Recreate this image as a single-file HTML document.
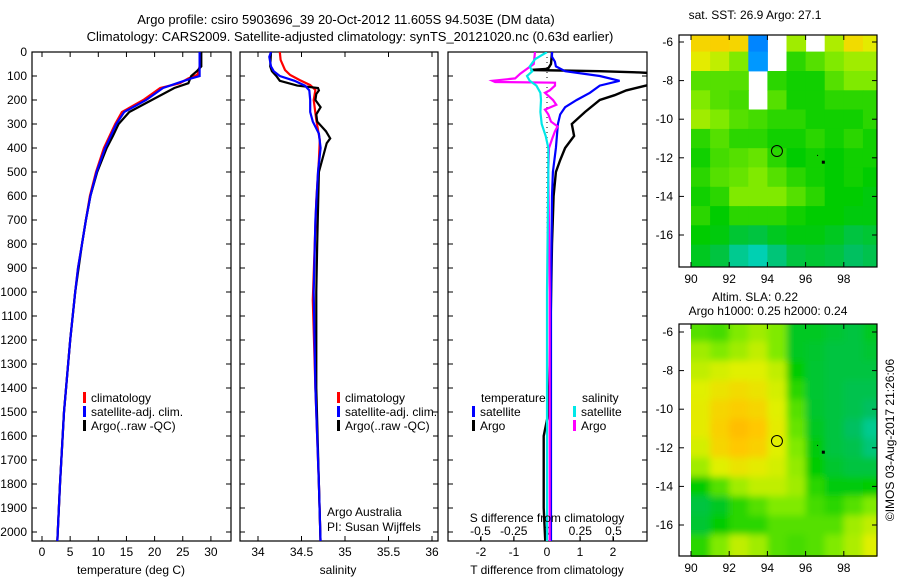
<!DOCTYPE html>
<html><head><meta charset="utf-8">
<style>
body{margin:0;background:#fff;}
svg{display:block;font-family:"Liberation Sans",sans-serif;}
text{font-size:12px;fill:#000;}
</style></head>
<body>
<svg id="fig" width="900" height="580" viewBox="0 0 900 580" xmlns="http://www.w3.org/2000/svg">
<defs>
<clipPath id="cp1"><rect x="32" y="52" width="199" height="489"/></clipPath>
<clipPath id="cp2"><rect x="240" y="52" width="198" height="489"/></clipPath>
<clipPath id="cp3"><rect x="448" y="52" width="199" height="489"/></clipPath>
<clipPath id="cpm1"><rect x="691" y="35" width="186" height="232"/></clipPath>
<clipPath id="cpm2"><rect x="691" y="324" width="186" height="233"/></clipPath>
<filter id="blur" x="-5%" y="-5%" width="110%" height="110%"><feGaussianBlur stdDeviation="3.5"/></filter>
</defs>
<text x="346" y="24" text-anchor="middle" style="font-size:13px">Argo profile: csiro 5903696_39 20-Oct-2012 11.605S 94.503E (DM data)</text>
<text x="350" y="41" text-anchor="middle" style="font-size:13px">Climatology: CARS2009. Satellite-adjusted climatology: synTS_20121020.nc (0.63d earlier)</text>
<g id="g"></g>
</svg>
<script>
// ---------- data ----------
const depthTicks=[0,100,200,300,400,500,600,700,800,900,1000,1100,1200,1300,1400,1500,1600,1700,1800,1900,2000];
const tempTicks=[0,5,10,15,20,25,30];
const salTicks=[34,34.5,35,35.5,36];
const tdiffTicks=[-2,-1,0,1,2];
const sdiffTicks=[-0.5,-0.25,0,0.25,0.5];
const sdiffLabels=["-0.5","-0.25","0","0.25","0.5"];

const tClimDepth=[0,60,95,110,130,150,200,250,300,400,500,600,700,800,900,1000,1200,1500,1800,2050];
const tClimVal=[28.0,28.0,27.6,26.0,24.5,21.0,18.0,14.2,13.0,11.0,9.6,8.5,7.8,7.1,6.4,5.9,5.0,3.9,3.2,2.7];
const tSatDepth=[0,100,110,130,150,200,250,300,400,500,600,700,800,900,1000,1200,1500,1800,2050];
const tSatVal=[28.0,28.0,26.5,24.0,21.5,18.5,14.6,13.2,11.2,9.7,8.6,7.8,7.1,6.4,5.9,5.0,3.9,3.2,2.7];
const tArgoDepth=[0,60,80,100,130,150,200,250,300,350,400,500,600,700,800,1000,1200,1500,1800,2050];
const tArgoVal=[28.3,28.3,27.5,26.5,26.0,23.5,19.5,15.5,13.6,12.6,11.5,9.8,8.6,7.8,7.1,5.9,5.0,3.9,3.2,2.7];

const sClimDepth=[0,33,75,96,117,138,158,200,283,325,367,450,617,1033,1400,1800,2050];
const sClimVal=[34.25,34.26,34.31,34.37,34.48,34.60,34.66,34.64,34.67,34.69,34.71,34.70,34.67,34.63,34.66,34.70,34.72];
const sSatDepth=[0,20,60,80,100,120,140,160,200,250,290,340,400,500,700,1000,1400,1800,2050];
const sSatVal=[34.15,34.13,34.15,34.18,34.25,34.42,34.54,34.59,34.60,34.60,34.63,34.70,34.72,34.69,34.66,34.64,34.66,34.70,34.72];
const sArgoDepth=[0,60,80,100,120,140,150,160,175,200,230,260,290,330,360,380,420,500,800,1000,1400,1800,2050];
const sArgoVal=[34.15,34.14,34.16,34.21,34.25,34.45,34.69,34.70,34.67,34.66,34.72,34.67,34.68,34.78,34.83,34.79,34.76,34.70,34.68,34.67,34.67,34.70,34.72];

const dTSatDepth=[0,20,40,60,80,100,120,140,170,200,230,260,300,400,500,600,1000,1500,2050];
const dTSatVal=[0.15,0.15,0.24,0.27,0.55,1.6,2.2,1.6,1.3,0.9,0.55,0.4,0.33,0.27,0.18,0.15,0.12,0.12,0.12];
const dTArgoDepth=[0,50,70,75,80,85,90,120,140,160,180,200,250,300,350,400,450,500,600,800,1200,1500,1600,1900,2050];
const dTArgoVal=[0.15,0.12,0.03,-0.5,1.6,2.8,3.4,3.4,3.0,2.4,2.05,1.6,1.15,0.75,0.82,0.55,0.4,0.27,0.2,0.15,0.1,0.05,-0.1,-0.1,-0.05];
const dSSatDepth=[0,30,60,80,100,120,140,170,200,250,300,350,400,500,1000,2050];
const dSSatVal=[0,-0.09,-0.13,-0.11,-0.15,-0.13,-0.08,-0.05,-0.045,-0.05,-0.04,-0.01,0.01,0.01,0,0];
const dSArgoDepth=[0,50,90,110,120,125,128,140,160,170,200,220,240,260,290,310,330,360,400,500,1000,2050];
const dSArgoVal=[-0.09,-0.1,-0.2,-0.24,-0.41,-0.39,0.06,0.06,0.02,-0.015,0.045,0.07,-0.015,0.01,0.03,0.08,0.06,0.04,0.015,0.01,0.02,0.02];

const mapLons=[90,91,92,93,94,95,96,97,98,99];
const mapLatTops=[-5.5,-6.5,-7.5,-8.5,-9.5,-10.5,-11.5,-12.5,-13.5,-14.5,-15.5,-16.5,-17.5];
const sstGrid=[
[0.8,0.82,0.8,-0.2,null,0.6,null,0.62,0.78,0.72],
[0.72,0.65,0.55,-0.15,null,0.45,0.5,0.55,0.6,0.6],
[0.5,0.5,0.5,null,0.45,0.42,0.42,0.5,0.55,0.55],
[0.55,0.5,0.48,null,0.5,0.42,0.42,0.45,0.45,0.45],
[0.6,0.55,0.5,0.48,0.45,0.45,0.42,0.42,0.42,0.45],
[0.45,0.5,0.45,0.45,0.42,0.42,0.45,0.42,0.45,0.42],
[0.42,0.48,0.5,0.52,0.45,0.4,0.42,0.4,0.42,0.42],
[0.45,0.5,0.52,0.55,0.5,0.45,0.42,0.4,0.42,0.4],
[0.42,0.45,0.55,0.55,0.55,0.5,0.45,0.4,0.4,0.38],
[0.45,0.4,0.45,0.45,0.45,0.42,0.4,0.4,0.38,0.38],
[0.4,0.38,0.32,0.3,0.35,0.38,0.38,0.35,0.3,0.32],
[0.35,0.3,0.15,0.08,0.2,0.3,0.32,0.3,0.25,0.28],
[0.35,0.3,0.15,0.08,0.2,0.3,0.32,0.3,0.25,0.28]];
const slaGrid=[
[0.5,0.48,0.55,0.6,0.55,0.35,0.35,0.32,0.3,0.35],
[0.6,0.55,0.6,0.65,0.55,0.35,0.33,0.3,0.3,0.32],
[0.65,0.68,0.7,0.7,0.65,0.4,0.32,0.3,0.3,0.3],
[0.7,0.75,0.78,0.75,0.68,0.45,0.32,0.3,0.28,0.28],
[0.72,0.8,0.83,0.8,0.7,0.5,0.33,0.3,0.28,0.25],
[0.72,0.82,0.88,0.85,0.72,0.52,0.35,0.3,0.25,0.15],
[0.68,0.8,0.85,0.82,0.7,0.55,0.38,0.3,0.28,0.2],
[0.6,0.7,0.75,0.72,0.68,0.58,0.4,0.33,0.3,0.3],
[0.4,0.5,0.6,0.65,0.65,0.6,0.45,0.38,0.38,0.4],
[0.3,0.35,0.45,0.5,0.55,0.55,0.48,0.45,0.5,0.55],
[0.32,0.4,0.45,0.45,0.5,0.5,0.5,0.5,0.6,0.65],
[0.45,0.55,0.65,0.6,0.5,0.48,0.5,0.55,0.62,0.7],
[0.45,0.55,0.65,0.6,0.5,0.48,0.5,0.55,0.62,0.7]];
const lonTicks=[90,92,94,96,98];
const latTicks=[-6,-8,-10,-12,-14,-16];
const argoPos=[94.5,-11.65];

// ---------- helpers ----------
const NS="http://www.w3.org/2000/svg";
const G=document.getElementById('g');
function mk(tag,attrs,parent){const e=document.createElementNS(NS,tag);for(const k in attrs)e.setAttribute(k,attrs[k]);(parent||G).appendChild(e);return e;}
function txt(x,y,s,anchor,parent,size){const e=mk('text',{x:x,y:y,'text-anchor':anchor||'start'},parent);if(size)e.style.fontSize=size+'px';e.textContent=s;return e;}
const yD=d=>52+d*0.24;
const xT=t=>42+t*5.63;
const xS=s=>258+(s-34)*87;
const xDT=v=>547+v*33;
const xDS=v=>547+v*133;

function frame(x0,x1,name){
  const r=mk('rect',{x:x0,y:52,width:x1-x0,height:489,fill:'none',stroke:'#000','stroke-width':1.2});
  
  
  depthTicks.forEach(d=>{mk('line',{x1:x0,x2:x0+5,y1:yD(d),y2:yD(d),stroke:'#000'});mk('line',{x1:x1-5,x2:x1,y1:yD(d),y2:yD(d),stroke:'#000'});});
}
function xticks(ticks,f,labels,x0,x1,top){
  ticks.forEach((t,i)=>{const x=f(t);
    mk('line',{x1:x,x2:x,y1:541,y2:536,stroke:'#000'});
    if(top)mk('line',{x1:x,x2:x,y1:52,y2:57,stroke:'#000'});
    if(labels){const e=txt(x,556,labels[i],'middle');}
  });
}
function line(depths,vals,fx,color,name,clip,w){
  const pts=depths.map((d,i)=>fx(vals[i]).toFixed(1)+','+yD(d).toFixed(1)).join(' ');
  const p=mk('polyline',{points:pts,fill:'none',stroke:color,'stroke-width':w||2.2,'clip-path':'url(#'+clip+')'});
  
  
}
function legend(x,y,color,label,name){
  if(color)mk('rect',{x:x,y:y-10,width:3,height:11,fill:color});
  const t=txt(x+(color?8:0),y,label,'start');
  
  
}

depthTicks.forEach(d=>{const t=txt(27,yD(d)+4,String(d),'end');});

// panel 1 temperature
frame(32,231,'temperature-panel');
xticks(tempTicks,xT,tempTicks.map(String),32,231,true);
line(tClimDepth,tClimVal,xT,'#ff0000','temp-climatology-line','cp1');
line(tArgoDepth,tArgoVal,xT,'#000000','temp-argo-line','cp1');
line(tSatDepth,tSatVal,xT,'#0000ff','temp-satellite-line','cp1');
legend(83,402,'#ff0000','climatology','legend-climatology');
legend(83,416,'#0000ff','satellite-adj. clim.','legend-satellite');
legend(83,430,'#000','Argo(..raw -QC)','legend-argo');
txt(131,574,'temperature (deg C)','middle');

// panel 2 salinity
frame(240,438,'salinity-panel');
xticks(salTicks,xS,salTicks.map(String),240,438,true);
line(sClimDepth,sClimVal,xS,'#ff0000','sal-climatology-line','cp2');
line(sArgoDepth,sArgoVal,xS,'#000000','sal-argo-line','cp2');
line(sSatDepth,sSatVal,xS,'#0000ff','sal-satellite-line','cp2');
legend(337,402,'#ff0000','climatology','legend-climatology-2');
legend(337,416,'#0000ff','satellite-adj. clim.','legend-satellite-2');
legend(337,430,'#000','Argo(..raw -QC)','legend-argo-2');
legend(327,516,null,'Argo Australia','credit-argo-australia');
legend(327,531,null,'PI: Susan Wijffels','credit-pi');
txt(338,574,'salinity','middle');

// panel 3 differences
frame(448,647,'difference-panel');
xticks(tdiffTicks,xDT,tdiffTicks.map(String),448,647,false);
sdiffTicks.forEach((t,i)=>{const x=xDS(t);mk('line',{x1:x,x2:x,y1:541,y2:537,stroke:'#000'});const e=txt(x,535,sdiffLabels[i],'middle');});
mk('line',{x1:xDT(0),x2:xDT(0),y1:52,y2:541,stroke:'#000','stroke-dasharray':'1,4','clip-path':'url(#cp3)'});
line(dTArgoDepth,dTArgoVal,xDT,'#000000','tdiff-argo-line','cp3',2.4);
line(dTSatDepth,dTSatVal,xDT,'#0000ff','tdiff-satellite-line','cp3');
line(dSArgoDepth,dSArgoVal,xDS,'#ff00ff','sdiff-argo-line','cp3');
line(dSSatDepth,dSSatVal,xDS,'#00e8e8','sdiff-satellite-line','cp3');
legend(481,402,null,'temperature','legend-temperature-header');
legend(472,416,'#0000ff','satellite','legend-t-satellite');
legend(472,430,'#000','Argo','legend-t-argo');
legend(582,402,null,'salinity','legend-salinity-header');
legend(573,416,'#00e8e8','satellite','legend-s-satellite');
legend(573,430,'#ff00ff','Argo','legend-s-argo');
txt(547,522,'S difference from climatology','middle');
txt(547,574,'T difference from climatology','middle');

// ---------- maps ----------
const cstops=[[-0.3,[0,96,255]],[-0.1,[0,170,255]],[0,[0,216,216]],[0.25,[0,192,96]],[0.4,[0,204,0]],[0.55,[128,234,0]],[0.7,[224,240,0]],[0.85,[255,200,0]],[1,[255,152,0]]];
function cmap(v){for(let i=1;i<cstops.length;i++){if(v<=cstops[i][0]){const a=cstops[i-1],b=cstops[i];const f=Math.max(0,(v-a[0])/(b[0]-a[0]));const c=a[1].map((x,k)=>Math.round(x+(b[1][k]-x)*f));return 'rgb('+c.join(',')+')';}}return 'rgb(255,152,0)';}
function drawMap(grid,y0,latY6,name,clip,blur){
  const xL=lon=>691+(lon-90)*19.1;
  const yL=lat=>latY6+(-6-lat)*19.3;
  const grp=mk('g',{'clip-path':'url(#'+clip+')'});
  
  
  const inner=mk('g',blur?{filter:'url(#blur)'}:{},grp);
  const last=grid[0].length-1;
  grid.forEach((row,r)=>row.forEach((v,c)=>{
    if(v===null)return;
    let x=xL(mapLons[c]),y=yL(mapLatTops[r]),w=19.6,h=19.8;
    if(blur){if(c===0){x-=12;w+=12;} if(c===last)w+=12; if(r===0){y-=12;h+=12;} if(r===grid.length-1)h+=12;}
    const cell=mk('rect',{x:x.toFixed(1),y:y.toFixed(1),width:w,height:h,fill:cmap(v)},inner);
    
  }));
  const fr=mk('rect',{x:679,y:y0,width:198,height:232,fill:'none',stroke:'#000','stroke-width':1.2});
  
  
  lonTicks.forEach(l=>{const x=xL(l);mk('line',{x1:x,x2:x,y1:y0,y2:y0+5,stroke:'#000'});mk('line',{x1:x,x2:x,y1:y0+232,y2:y0+227,stroke:'#000'});txt(x,y0+248,String(l),'middle');});
  latTicks.forEach(l=>{const y=yL(l);mk('line',{x1:679,x2:684,y1:y,y2:y,stroke:'#000'});mk('line',{x1:872,x2:877,y1:y,y2:y,stroke:'#000'});txt(673,y+4,String(l),'end');});
  const c=mk('circle',{cx:xL(argoPos[0]),cy:yL(argoPos[1]),r:5.5,fill:'none',stroke:'#000','stroke-width':1});
  
  
  mk('rect',{x:xL(96.85),y:yL(-12.15),width:3,height:3,fill:'#000'});
  mk('rect',{x:xL(96.6),y:yL(-11.85),width:1,height:1,fill:'#000'});
}
drawMap(sstGrid,35,42,'sst-map','cpm1',false);
drawMap(slaGrid,324,332,'sla-map','cpm2',true);
txt(755,19,'sat. SST: 26.9 Argo: 27.1','middle');
txt(755,301,'Altim. SLA: 0.22','middle');
txt(768,315,'Argo h1000: 0.25 h2000: 0.24','middle');
const cr=txt(0,0,'\u00A9IMOS 03-Aug-2017 21:26:06','middle');
cr.setAttribute('transform','translate(894,440) rotate(-90)');


</script>
</body></html>
